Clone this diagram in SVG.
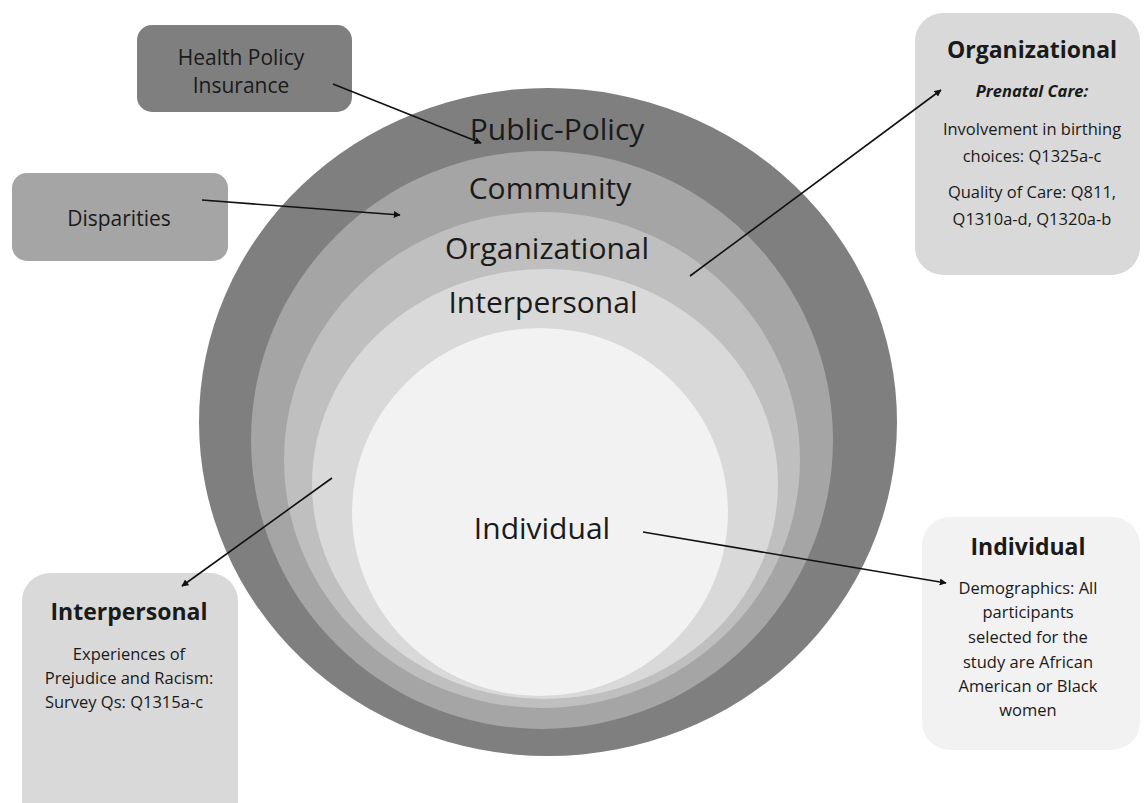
<svg xmlns="http://www.w3.org/2000/svg" width="1147" height="803" viewBox="0 0 1147 803">
<style>
text{font-family:"Open Sans","Liberation Sans",sans-serif;fill:#1a1a1a;text-anchor:middle}
.ring{font-size:30px}
.box{font-size:21px}
.ttl{font-size:23px;font-weight:bold}
.sm{font-size:16.5px}
.conn line{stroke:#111;stroke-width:1.6;fill:none}
</style>
<defs>
<marker id="ah" viewBox="0 0 10 10" refX="9" refY="5" markerWidth="7" markerHeight="7" markerUnits="userSpaceOnUse" orient="auto"><path d="M0,0 L10,5 L0,10 z" fill="#111"/></marker>
</defs>
<rect width="1147" height="803" fill="#fff"/>
<g id="rings">
<ellipse cx="548" cy="422" rx="349" ry="334" fill="#7f7f7f"/>
<ellipse cx="542" cy="440" rx="291" ry="289" fill="#a5a5a5"/>
<ellipse cx="542" cy="460" rx="258" ry="248" fill="#bfbfbf"/>
<ellipse cx="545" cy="484" rx="233" ry="215" fill="#d9d9d9"/>
<ellipse cx="540" cy="512" rx="188" ry="184" fill="#f2f2f2"/>
<text class="ring" x="557" y="140">Public-Policy</text>
<text class="ring" x="550" y="199">Community</text>
<text class="ring" x="547" y="259">Organizational</text>
<text class="ring" x="543" y="313">Interpersonal</text>
<text class="ring" x="542" y="539">Individual</text>
</g>
<g id="health-policy">
<rect x="137" y="25" width="215" height="87" rx="15" fill="#7f7f7f"/>
<text class="box" x="241" y="65">Health Policy</text>
<text class="box" x="241" y="93">Insurance</text>
</g>
<g id="disparities">
<rect x="12" y="173" width="216" height="88" rx="15" fill="#a5a5a5"/>
<text class="box" x="119" y="226">Disparities</text>
</g>
<g id="org-box">
<rect x="915" y="13" width="225" height="262" rx="28" fill="#d9d9d9"/>
<text class="ttl" x="1032" y="58">Organizational</text>
<text class="sm" x="1032" y="97" font-style="italic" font-weight="bold" font-size="15.5">Prenatal Care:</text>
<text class="sm" x="1032" y="135">Involvement in birthing</text>
<text class="sm" x="1032" y="162">choices: Q1325a-c</text>
<text class="sm" x="1032" y="198">Quality of Care: Q811,</text>
<text class="sm" x="1032" y="225">Q1310a-d, Q1320a-b</text>
</g>
<g id="interpersonal-box">
<rect x="22" y="573" width="216" height="260" rx="28" fill="#d9d9d9"/>
<text class="ttl" x="129" y="620">Interpersonal</text>
<text class="sm" x="129" y="660">Experiences of</text>
<text class="sm" x="129" y="684">Prejudice and Racism:</text>
<text class="sm" x="124" y="708">Survey Qs: Q1315a-c</text>
</g>
<g id="individual-box">
<rect x="922" y="517" width="218" height="233" rx="28" fill="#f2f2f2"/>
<text class="ttl" x="1028" y="555">Individual</text>
<text class="sm" x="1028" y="594">Demographics: All</text>
<text class="sm" x="1028" y="618">participants</text>
<text class="sm" x="1028" y="643">selected for the</text>
<text class="sm" x="1028" y="668">study are African</text>
<text class="sm" x="1028" y="692">American or Black</text>
<text class="sm" x="1028" y="716">women</text>
</g>
<g id="connectors" class="conn">
<line x1="333" y1="84" x2="481" y2="143" marker-end="url(#ah)"/>
<line x1="202" y1="200" x2="400" y2="215" marker-end="url(#ah)"/>
<line x1="690" y1="276" x2="941" y2="90" marker-end="url(#ah)"/>
<line x1="332" y1="478" x2="182" y2="586" marker-end="url(#ah)"/>
<line x1="643" y1="532" x2="946" y2="583" marker-end="url(#ah)"/>
</g>
</svg>
